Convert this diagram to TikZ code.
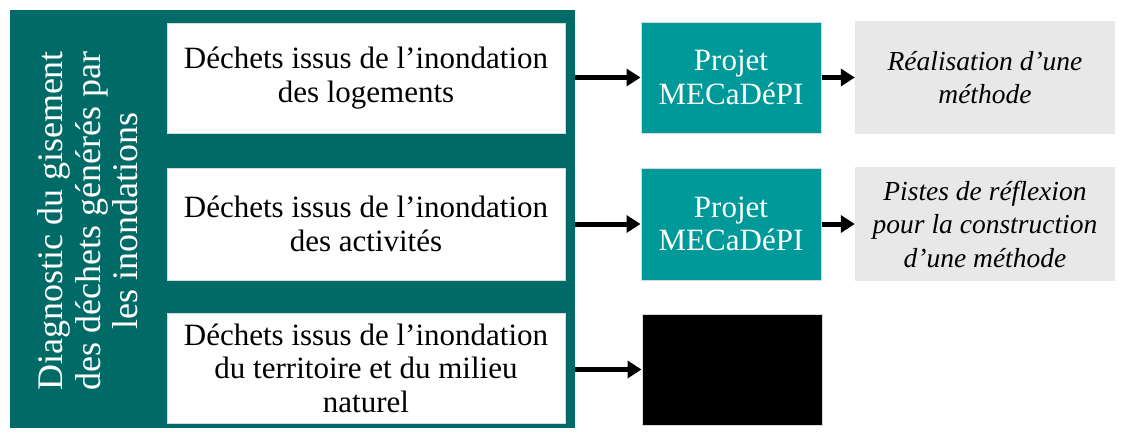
\documentclass[tikz,border=0pt]{standalone}
\usepackage{fontspec}
\setmainfont{Liberation Serif}
\usetikzlibrary{arrows.meta}
\definecolor{darkteal}{HTML}{006A66}
\definecolor{projteal}{HTML}{009999}
\definecolor{lightgrey}{HTML}{E8E8E8}
\definecolor{edgegrey}{HTML}{D9D9D9}
\tikzset{
  box/.style={rectangle, inner sep=0pt, align=center, font=\fontsize{31}{33.5}\selectfont},
  whitebox/.style={box, fill=white, draw=edgegrey, line width=1pt, minimum width=398pt},
  projbox/.style={box, fill=projteal, draw=edgegrey, line width=1pt, text=white, minimum width=180pt},
  greybox/.style={box, fill=lightgrey, minimum width=260pt, font=\fontsize{27.5}{33.5}\selectfont\itshape},
  conn/.style={line width=5pt, -{Triangle[length=14pt,width=17pt]}}
}
\begin{document}
\begin{tikzpicture}[x=1pt,y=-1pt]
\useasboundingbox (0,0) rectangle (1129,432);
\node[rectangle, fill=darkteal, minimum width=565pt, minimum height=418pt, inner sep=0pt] (big) at (292.5,219) {};
\node[text=white, rotate=90, align=center, font=\fontsize{36}{37.5}\selectfont] (diag) at (88,221)
  {Diagnostic du gisement\\des déchets générés par\\les inondations};
\node[whitebox, minimum height=110pt] (w1) at (366,78) {Déchets issus de l’inondation\\des logements};
\node[whitebox, minimum height=112pt] (w2) at (366,224) {Déchets issus de l’inondation\\des activités};
\node[whitebox, minimum height=110pt] (w3) at (366,368) {Déchets issus de l’inondation\\du territoire et du milieu\\naturel};
\node[projbox, minimum height=111pt] (p1) at (731,77.5) {Projet\\MECaDéPI};
\node[projbox, minimum height=112pt] (p2) at (731,224) {Projet\\MECaDéPI};
\node[rectangle, fill=black, draw=edgegrey, line width=1pt, minimum width=180pt, minimum height=111pt, inner sep=0pt] (blk) at (732,369.5) {};
\node[greybox, minimum height=113pt] (g1) at (985,77.5) {Réalisation d’une\\méthode};
\node[greybox, minimum height=114pt] (g2) at (985,224) {Pistes de réflexion\\pour la construction\\d’une méthode};
\draw[conn] (big.east |- p1) -- (p1.west);
\draw[conn] (big.east |- p2) -- (p2.west);
\draw[conn] (big.east |- blk) -- (blk.west);
\draw[conn] (p1.east) -- (g1.west);
\draw[conn] (p2.east) -- (g2.west);
\end{tikzpicture}
\end{document}
